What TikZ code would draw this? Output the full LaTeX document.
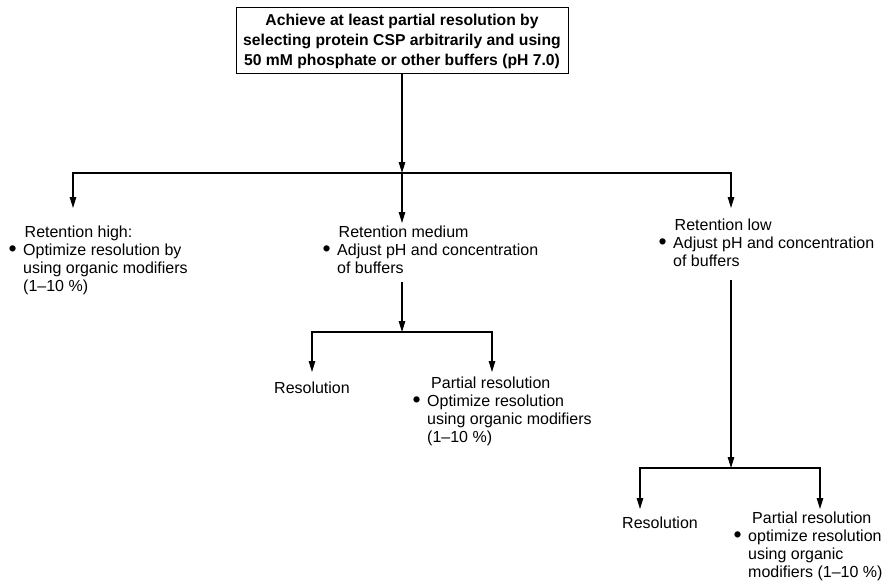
\documentclass[tikz,border=0pt]{standalone}
\usepackage{fontspec}
\setmainfont{Liberation Sans}
\usetikzlibrary{arrows.meta}
\newcommand\regfont{\fontsize{16}{18}\selectfont}
\newcommand\ttlfont{\fontsize{15.7}{20}\selectfont\bfseries}
\newcommand\bul{\llap{\raisebox{-1.8pt}{\fontsize{23}{23}\selectfont\textbullet}\hspace{6.5pt}}}
\newcommand\blk[1]{\begin{tabular}[t]{@{}l@{}}#1\end{tabular}}
\begin{document}
\begin{tikzpicture}[x=1pt,y=-1pt,
  titlebox/.style={draw, line width=1pt, align=center, minimum width=332pt, minimum height=66pt, inner sep=0pt, font=\ttlfont},
  txt/.style={anchor=base west, inner sep=0pt, font=\regfont},
  ln/.style={line width=1.2pt},
  arr/.style={line width=1.2pt, -{Triangle[length=11pt,width=6.5pt]}}]
\useasboundingbox (0,0) rectangle (888,583);

\node[titlebox] (top) at (402,41) {Achieve at least partial resolution by\\selecting protein CSP arbitrarily and using\\50 mM phosphate or other buffers (pH 7.0)};

\coordinate (j1) at (402,173);
\coordinate (hiT) at (73,208);
\coordinate (medT) at (402,223);
\coordinate (lowT) at (731,208);

\node[txt] (hi) at (23,237) {\blk{\hspace{1.5pt}Retention high:\\\bul Optimize resolution by\\using organic modifiers\\(1–10 \%)}};
\node[txt] (med) at (337,237) {\blk{\hspace{1.5pt}Retention medium\\\bul Adjust pH and concentration\\of buffers}};
\node[txt] (low) at (673,230) {\blk{\hspace{1.5pt}Retention low\\\bul Adjust pH and concentration\\of buffers}};

\draw[arr] (top) -- (j1);
\draw[arr] (j1) -| (hiT);
\draw[arr] (j1) -| (lowT);
\draw[arr] (j1) -- (medT);

\coordinate (j2) at (402,332);
\coordinate (r1T) at (312,372);
\coordinate (p1T) at (492,372);
\draw[arr, shorten <=3.5pt] (med.south -| j2) -- (j2);
\draw[arr] (j2) -| (r1T);
\draw[arr] (j2) -| (p1T);

\node[txt] (res1) at (274,393) {Resolution};
\node[txt] (part1) at (427,388) {\blk{\hspace{4pt}Partial resolution\\\bul Optimize resolution\\using organic modifiers\\(1–10 \%)}};

\coordinate (j3) at (731,468);
\coordinate (r2T) at (640,509);
\coordinate (p2T) at (820,509);
\draw[arr, shorten <=8.5pt] (low.south -| j3) -- (j3);
\draw[arr] (j3) -| (r2T);
\draw[arr] (j3) -| (p2T);

\node[txt] (res2) at (622,528) {Resolution};
\node[txt] (part2) at (748,523) {\blk{\hspace{4pt}Partial resolution\\\bul optimize resolution\\using organic\\modifiers (1–10 \%)}};
\end{tikzpicture}
\end{document}
